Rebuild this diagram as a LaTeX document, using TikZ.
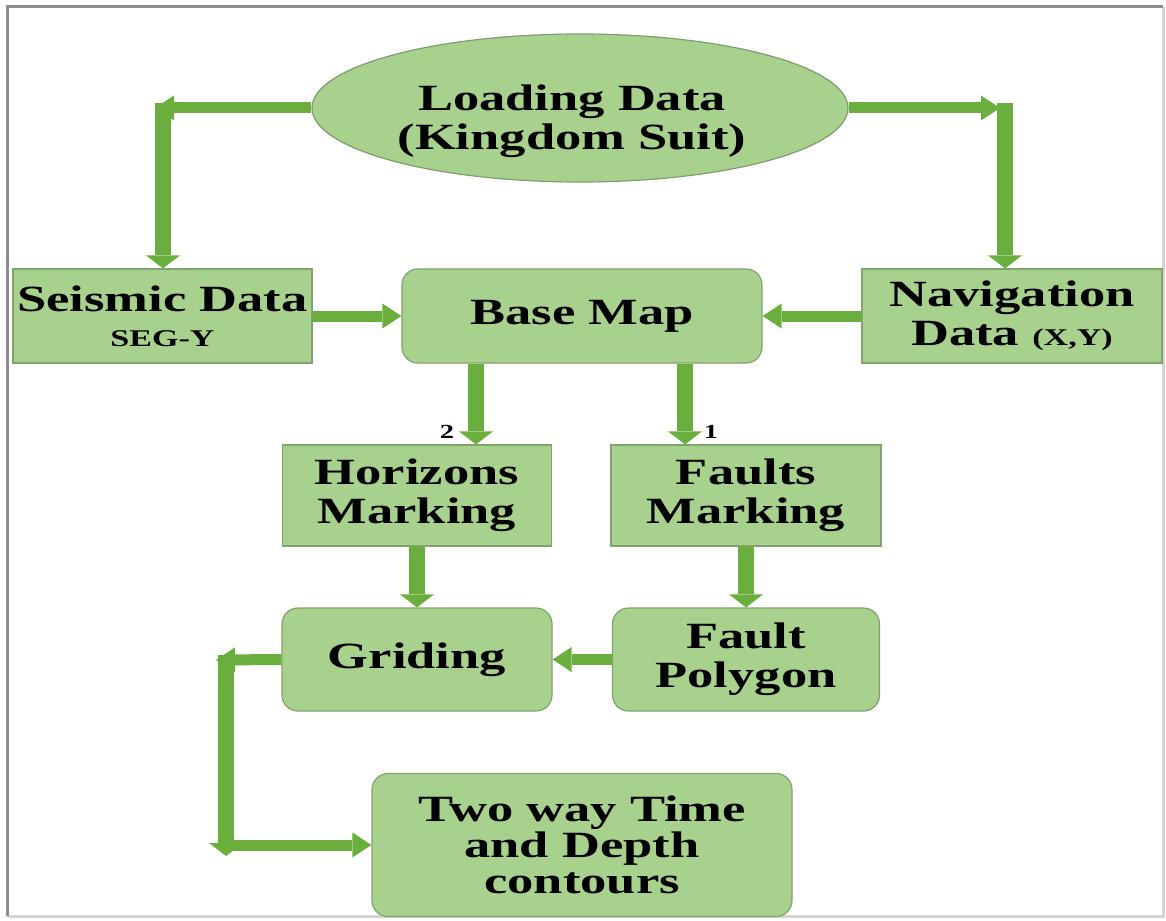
\documentclass[tikz,border=0pt]{standalone}
\usepackage{fontspec}
\setmainfont{Liberation Serif}[FakeStretch=1.42]
\usetikzlibrary{arrows.meta,shapes.geometric}
\definecolor{boxfill}{HTML}{A9D18E}
\definecolor{boxline}{HTML}{7FA36A}
\definecolor{arrowgreen}{HTML}{6AAE3E}
\definecolor{framedark}{HTML}{8C8C8C}
\definecolor{framelight}{HTML}{D4D4D4}
\tikzset{
  box/.style={draw=boxline, line width=1.2pt, fill=boxfill, inner sep=0pt, align=center,
    font=\bfseries\fontsize{37}{39}\selectfont, text=black},
  rbox/.style={box, rounded corners=16pt},
  harrow/.style={draw=arrowgreen, line width=11pt, -{Triangle[length=19pt,width=25pt,line width=0pt]}},
  varrow/.style={draw=arrowgreen, line width=16pt, -{Triangle[length=13pt,width=34pt,line width=0pt]}},
  num/.style={font=\bfseries\fontsize{20}{20}\selectfont, inner sep=0pt}
}
\begin{document}
\begin{tikzpicture}[x=1pt,y=-1pt]
\useasboundingbox (0,0) rectangle (1166,920);
% frame
\draw[framelight, line width=3pt] (1163,7) -- (1163,916) -- (7,916);
\draw[framedark, line width=3pt] (7,916) -- (7,7) -- (1163,7);

% nodes
\node[box, ellipse, draw=boxline!80!gray, minimum width=536pt, minimum height=148pt] (load) at (580,108) {};
\node[font=\bfseries\fontsize{37}{39}\selectfont, align=center, inner sep=0pt] (loadtxt) at (572,121) {Loading Data\\(Kingdom Suit)};
\node[box, minimum width=299pt, minimum height=94pt] (seis) at (162.5,316)
  {Seismic Data\\[-4pt]{\fontsize{24}{26}\selectfont SEG-Y}};
\node[rbox, minimum width=360pt, minimum height=94pt] (base) at (582,316) {Base Map};
\node[box, minimum width=300pt, minimum height=94pt] (nav) at (1012,316)
  {Navigation\\Data {\fontsize{24}{26}\selectfont (X,Y)}};
\node[box, minimum width=269pt, minimum height=101pt] (hor) at (417,495.5) {Horizons\\Marking};
\node[box, minimum width=270pt, minimum height=101pt] (flt) at (746,495.5) {Faults\\Marking};
\node[rbox, minimum width=270pt, minimum height=103pt] (grd) at (417,659.5) {Griding};
\node[rbox, minimum width=267pt, minimum height=103pt] (fpol) at (746,659.5) {Fault\\Polygon};
\node[rbox, minimum width=420pt, minimum height=143pt, font=\bfseries\fontsize{37}{36}\selectfont] (two) at (582,845)
  {Two way Time\\and Depth\\contours};

\node[num] (n2) at (447,432) {2};
\node[num] (n1) at (711,432) {1};

% coordinates for elbows and offsets
\coordinate (cLtop) at (163,103);
\coordinate (cLtip) at (155,108);
\coordinate (cRtop) at (1005,103);
\coordinate (cRtip) at (1000,108);
\coordinate (gTop) at (226,655);
\coordinate (gBot) at (226,856);
\coordinate (gTip) at (216,660);
\coordinate (xL) at (476,0);
\coordinate (xR) at (685,0);

% connectors
\draw[varrow] (cLtop) -- (seis.north -| cLtop);
\draw[harrow] (load.west) -- (cLtip);
\draw[varrow] (cRtop) -- (nav.north -| cRtop);
\draw[harrow] (load.east) -- (cRtip);

\draw[harrow] (seis.east) -- (base.west);
\draw[harrow] (nav.west) -- (base.east);

\draw[varrow] (base.south -| xL) -- (hor.north -| xL);
\draw[varrow] (base.south -| xR) -- (flt.north -| xR);

\draw[varrow] (hor.south) -- (grd.north);
\draw[varrow] (flt.south) -- (fpol.north);
\draw[harrow] (fpol.west) -- (grd.east);

\draw[varrow] (gTop) -- (gBot);
\draw[harrow] (grd.west) -- (gTip);
\draw[harrow] (two.west -| gTop) -- (two.west);
\end{tikzpicture}
\end{document}
